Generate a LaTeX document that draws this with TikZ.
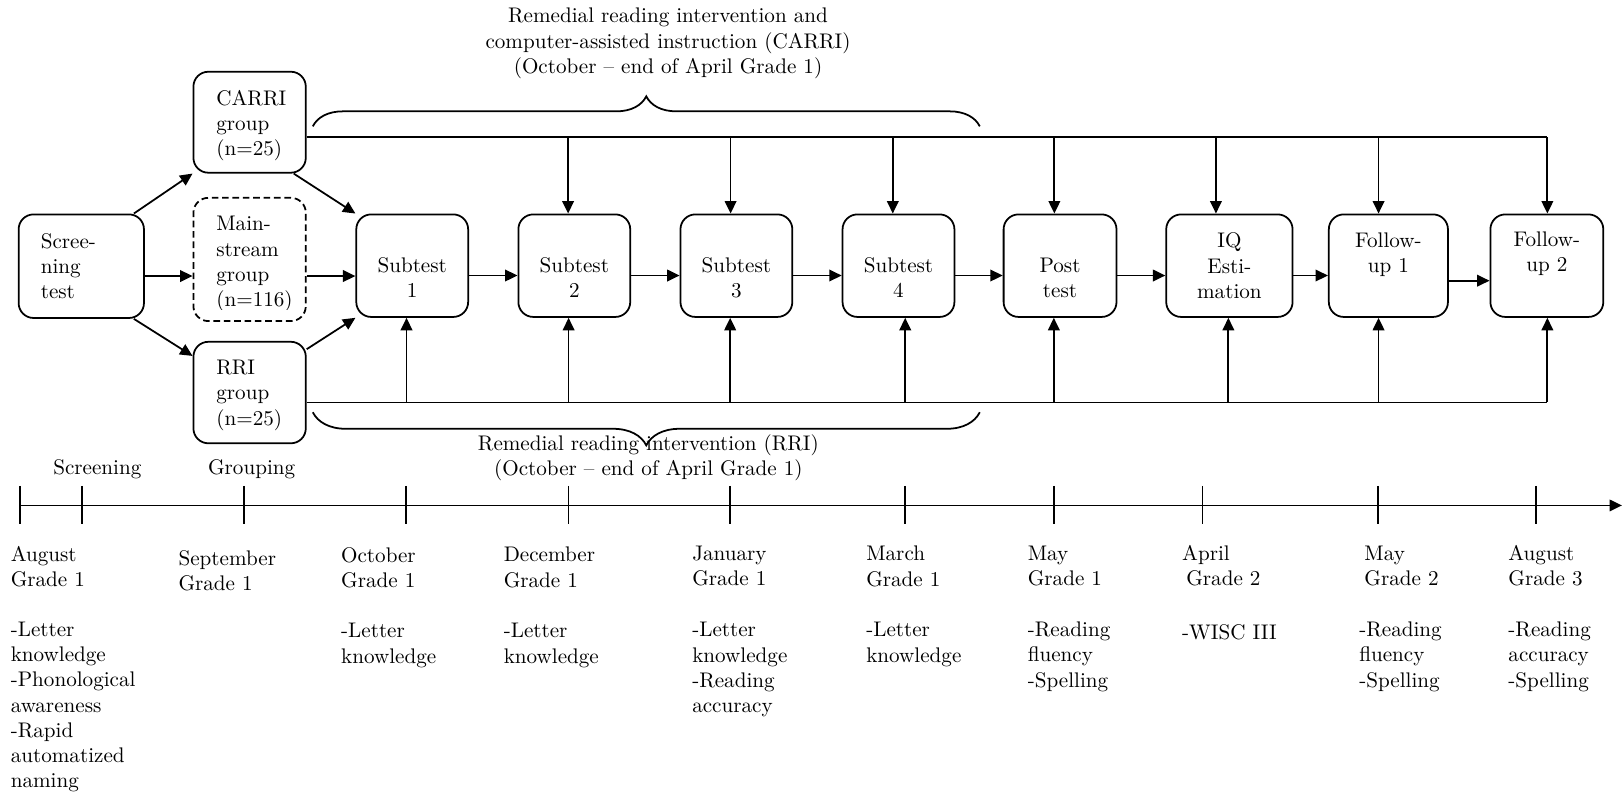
\documentclass[tikz,border=0pt]{standalone}
\usetikzlibrary{arrows.meta,decorations.pathreplacing,calc}
\newcommand\figfont{\fontsize{10.2pt}{12.2pt}\selectfont}
\begin{document}
\begin{tikzpicture}[x=0.5pt,y=-0.5pt,
  box/.style={draw, rounded corners=7.2pt, line width=0.85pt, inner sep=0pt, minimum height=49.5pt},
  dashbox/.style={box, dash pattern=on 3.2pt off 1.8pt},
  txt/.style={font=\figfont, inner sep=0pt, execute at begin node=\strut},
  ltxt/.style={txt, align=left, anchor=north west},
  ctxt/.style={txt, align=center, anchor=north},
  conn/.style={line width=0.85pt},
  arr/.style={conn, -{Triangle[length=6pt,width=5.6pt]}},
  brace/.style={conn, decorate},
]
\useasboundingbox (0,0) rectangle (1568,768);

% ---------- boxes ----------
\node[box, minimum width=60.5pt, minimum height=50pt] (scr) at (78.5,257) {};
\node[box, minimum width=54.25pt, minimum height=48.75pt] (carri) at (241,118) {};
\node[dashbox, minimum width=54.25pt, minimum height=59.5pt] (main) at (241,250.5) {};
\node[box, minimum width=54.25pt, minimum height=49pt] (rri) at (241,379) {};
\node[box, minimum width=54pt] (s1) at (398,256.5) {};
\node[box, minimum width=54pt] (s2) at (554.5,256.5) {};
\node[box, minimum width=54pt] (s3) at (711,256.5) {};
\node[box, minimum width=54pt] (s4) at (867.5,256.5) {};
\node[box, minimum width=54.5pt] (post) at (1023.5,256.5) {};
\node[box, minimum width=61pt] (iq) at (1187,256.5) {};
\node[box, minimum width=57.5pt] (fu1) at (1340.5,256.5) {};
\node[box, minimum width=54.5pt] (fu2) at (1493.5,256.5) {};

% ---------- box texts ----------
\node[ltxt] (scrT) at (39,225) {Scree-\\ning\\test};
\node[ltxt] (carriT) at (208.5,86.8) {CARRI\\group\\(n=25)};
\begin{scope}
  \clip (187,191) rectangle (295.5,298.5);
  \node[ltxt] (mainT) at (208.5,208.6) {Main-\\stream\\group\\(n=116)};
\end{scope}
\node[ltxt] (rriT) at (208.5,347.4) {RRI\\group\\(n=25)};
\node[ctxt] (s1T) at (398,248.5) {Subtest\\1};
\node[ctxt] (s2T) at (554.5,248.5) {Subtest\\2};
\node[ctxt] (s3T) at (711,248.5) {Subtest\\3};
\node[ctxt] (s4T) at (867.5,248.5) {Subtest\\4};
\node[ctxt] (postT) at (1023.5,248.5) {Post\\test};
\node[ctxt] (iqT) at (1187,224.5) {IQ\\Esti-\\mation};
\node[ctxt] (fu1T) at (1340.5,224.5) {Follow-\\up 1};
\node[ctxt] (fu2T) at (1493.5,223.5) {Follow-\\up 2};

% ---------- grouping arrows ----------
\coordinate (rowA) at (0,266.5);
\coordinate (rowB) at (0,266);
\coordinate (rowC) at (0,271);
\draw[arr] ($(scr.north east)+(-10.6,0)$) -- (carri.south west);
\draw[arr] ($(scr.south east)+(-10.6,0)$) -- ($(rri.north west)+(0,14.5)$);
\draw[arr] (scr.east |- rowA) -- (main.west |- rowA);
\draw[arr] ($(carri.south east)+(-12.5,0)$) -- (s1.north west);
\draw[arr] (main.east |- rowA) -- (s1.west |- rowA);
\draw[arr] ($(rri.north east)+(0,8)$) -- (s1.south west);

% ---------- main sequence ----------
\draw[arr] (s1.east |- rowB) -- (s2.west |- rowB);
\draw[arr] (s2.east |- rowB) -- (s3.west |- rowB);
\draw[arr] (s3.east |- rowB) -- (s4.west |- rowB);
\draw[arr] (s4.east |- rowB) -- (post.west |- rowB);
\draw[arr] (post.east |- rowB) -- (iq.west |- rowB);
\draw[arr] (iq.east |- rowB) -- (fu1.west |- rowB);
\draw[arr] (fu1.east |- rowC) -- (fu2.west |- rowC);

% ---------- CARRI feed line (top) ----------
\coordinate (topY) at (0,132.5);
\coordinate (ta2) at (548.5,132.5);
\coordinate (ta3) at (705.4,132.5);
\coordinate (ta4) at (862,132.5);
\coordinate (taP) at (1018,132.5);
\coordinate (taI) at (1174,132.5);
\coordinate (taF1) at (1331,132.5);
\coordinate (taF2) at (1494,132.5);
\draw[conn] (carri.east |- topY) -- (taF2);
\draw[arr] (ta2) -- (ta2 |- s2.north);
\draw[arr] (ta3) -- (ta3 |- s3.north);
\draw[arr] (ta4) -- (ta4 |- s4.north);
\draw[arr] (taP) -- (taP |- post.north);
\draw[arr] (taI) -- (taI |- iq.north);
\draw[arr] (taF1) -- (taF1 |- fu1.north);
\draw[arr] (taF2) -- (taF2 |- fu2.north);

% ---------- RRI feed line (bottom) ----------
\coordinate (botY) at (0,388.5);
\coordinate (ba1) at (392.5,388.5);
\coordinate (ba2) at (549,388.5);
\coordinate (ba3) at (705,388.5);
\coordinate (ba4) at (874,388.5);
\coordinate (baP) at (1017.5,388.5);
\coordinate (baI) at (1186,388.5);
\coordinate (baF1) at (1331,388.5);
\coordinate (baF2) at (1494,388.5);
\draw[conn] (rri.east |- botY) -- (baF2);
\draw[arr] (ba1) -- (ba1 |- s1.south);
\draw[arr] (ba2) -- (ba2 |- s2.south);
\draw[arr] (ba3) -- (ba3 |- s3.south);
\draw[arr] (ba4) -- (ba4 |- s4.south);
\draw[arr] (baP) -- (baP |- post.south);
\draw[arr] (baI) -- (baI |- iq.south);
\draw[arr] (baF1) -- (baF1 |- fu1.south);
\draw[arr] (baF2) -- (baF2 |- fu2.south);

% ---------- braces and their captions ----------
\coordinate (tbL) at (302,122);
\coordinate (tbR) at (946,122);
\draw[brace, decoration={brace, amplitude=14.5pt}] (tbL) -- (tbR);
\node[ctxt] (carriCap) at (645,7.4) {Remedial reading intervention and\\computer-assisted instruction (CARRI)\\(October -- end of April Grade 1)};
\coordinate (bbL) at (302,398);
\coordinate (bbR) at (946,398);
\draw[brace, decoration={brace, amplitude=16pt}] (bbR) -- (bbL);
\node[ctxt] (rriCap) at (626,419.4) {Remedial reading intervention (RRI)\\(October -- end of April Grade 1)};

% ---------- phase labels ----------
\node[txt, anchor=base] (phScr) at (94,458.5) {Screening};
\node[txt, anchor=base] (phGrp) at (243,458.5) {Grouping};

% ---------- time line ----------
\coordinate (tl0) at (19,488);
\coordinate (tlEnd) at (1566,488);
\draw[arr] (tl0) -- (tlEnd);
\foreach \x in {19,79.3,235.6,392,549,705,874,1018,1161,1330.5,1483}
  \draw[conn] (\x,469) -- (\x,506);

% ---------- dates and measures ----------
\node[ltxt] (d1) at (10,527) {August\\Grade 1};
\node[ltxt] (m1) at (10,600) {-Letter\\knowledge\\-Phonological\\awareness\\-Rapid\\automatized\\naming};
\node[ltxt] (d2) at (172,531) {September\\Grade 1};
\node[ltxt] (d3) at (329,528) {October\\Grade 1};
\node[ltxt] (m3) at (329,601.5) {-Letter\\knowledge};
\node[ltxt] (d4) at (486,528) {December\\Grade 1};
\node[ltxt] (m4) at (486,601.5) {-Letter\\knowledge};
\node[ltxt] (d5) at (668,527) {January\\Grade 1};
\node[ltxt] (m5) at (668,600.5) {-Letter\\knowledge\\-Reading\\accuracy};
\node[ltxt] (d6) at (836,527) {March\\Grade 1};
\node[ltxt] (m6) at (836,600.5) {-Letter\\knowledge};
\node[ltxt] (d7) at (992,527) {May\\Grade 1};
\node[ltxt] (m7) at (992,600) {-Reading\\fluency\\-Spelling};
\node[ltxt] (d8) at (1141,526) {April\\\hspace{2pt}Grade 2};
\node[ltxt] (m8) at (1141,600) {-WISC III};
\node[ltxt] (d9) at (1317,527) {May\\Grade 2};
\node[ltxt] (m9) at (1312,600) {-Reading\\fluency\\-Spelling};
\node[ltxt] (d10) at (1456,526) {August\\Grade 3};
\node[ltxt] (m10) at (1456,600) {-Reading\\accuracy\\-Spelling};
\end{tikzpicture}
\end{document}
